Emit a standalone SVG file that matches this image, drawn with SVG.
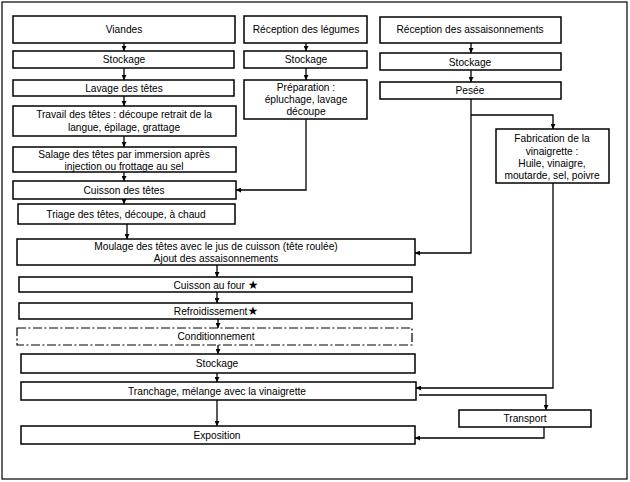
<svg xmlns="http://www.w3.org/2000/svg" width="630" height="482" viewBox="0 0 630 482">
<style>
.b{fill:#fff;stroke:#000;stroke-width:1.5}
.d{fill:#fff;stroke:#000;stroke-width:1.2;stroke-dasharray:9,2.5,2,2.5}
.t{font-family:"Liberation Sans",Arial,sans-serif;font-size:10.2px;fill:#000;text-anchor:middle}
.s{font-family:"DejaVu Sans",sans-serif;font-size:12px;font-weight:bold}
.c{fill:none;stroke:#000;stroke-width:1.3}
</style>
<defs>
<marker id="a" viewBox="0 0 10 10" refX="10" refY="5" markerWidth="5" markerHeight="5" orient="auto" markerUnits="userSpaceOnUse">
<path d="M0,0 L10,5 L0,10 z" fill="#000"/>
</marker>
</defs>
<rect x="2" y="2" width="625" height="477" fill="#fff" stroke="#000" stroke-width="1.2"/>
<g id="connectors">
<path class="c" marker-end="url(#a)" d="M124,43 V51"/>
<path class="c" marker-end="url(#a)" d="M124,68 V80"/>
<path class="c" marker-end="url(#a)" d="M124,96 V106"/>
<path class="c" marker-end="url(#a)" d="M124,136 V147"/>
<path class="c" marker-end="url(#a)" d="M124,172 V181"/>
<path class="c" marker-end="url(#a)" d="M124,199 V204"/>
<path class="c" marker-end="url(#a)" d="M127,224 V239"/>
<path class="c" marker-end="url(#a)" d="M306,43 V51"/>
<path class="c" marker-end="url(#a)" d="M306,68 V80"/>
<path class="c" marker-end="url(#a)" d="M306,119 V190 H236"/>
<path class="c" marker-end="url(#a)" d="M471,43 V53"/>
<path class="c" marker-end="url(#a)" d="M471,70 V82"/>
<path class="c" marker-end="url(#a)" d="M471,99 V253 H415"/>
<path class="c" marker-end="url(#a)" d="M471,115 H553 V129"/>
<path class="c" marker-end="url(#a)" d="M553,183 V388 H416"/>
<path class="c" marker-end="url(#a)" d="M419,395 H546 V410"/>
<path class="c" marker-end="url(#a)" d="M544,427 V438 H415"/>
<path class="c" marker-end="url(#a)" d="M217,265 V277"/>
<path class="c" marker-end="url(#a)" d="M217,292 V303"/>
<path class="c" marker-end="url(#a)" d="M218,319 V328"/>
<path class="c" marker-end="url(#a)" d="M218,345 V354"/>
<path class="c" marker-end="url(#a)" d="M217,373 V382"/>
<path class="c" marker-end="url(#a)" d="M217,400 V426"/>
</g>
<g id="viandes"><rect class="b" x="13" y="16" width="222" height="27"/><text class="t" x="124" y="33">Viandes</text></g>
<g id="stockage1"><rect class="b" x="13" y="51" width="221" height="17"/><text class="t" x="124" y="63">Stockage</text></g>
<g id="lavage"><rect class="b" x="13" y="80" width="221" height="16"/><text class="t" x="124" y="92">Lavage des têtes</text></g>
<g id="travail"><rect class="b" x="13" y="106" width="223" height="30"/><text class="t" x="124" y="118">Travail des têtes : découpe retrait de la</text><text class="t" x="124" y="131">langue, épilage,  grattage</text></g>
<g id="salage"><rect class="b" x="13" y="147" width="223" height="25"/><text class="t" x="124" y="158">Salage des têtes par immersion après</text><text class="t" x="124" y="170">injection ou frottage au sel</text></g>
<g id="cuisson-tetes"><rect class="b" x="13" y="181" width="223" height="18"/><text class="t" x="124" y="194">Cuisson des têtes</text></g>
<g id="triage"><rect class="b" x="18" y="204" width="217" height="20"/><text class="t" x="126" y="218">Triage des têtes, découpe, à chaud</text></g>
<g id="reception-legumes"><rect class="b" x="244" y="16" width="123" height="27"/><text class="t" x="306" y="33">Réception des légumes</text></g>
<g id="stockage-legumes"><rect class="b" x="244" y="51" width="123" height="17"/><text class="t" x="306" y="63">Stockage</text></g>
<g id="preparation"><rect class="b" x="244" y="80" width="123" height="39"/><text class="t" x="306" y="91">Préparation :</text><text class="t" x="306" y="103">épluchage, lavage</text><text class="t" x="306" y="115">découpe</text></g>
<g id="reception-assaisonnements"><rect class="b" x="380" y="17" width="181" height="26"/><text class="t" x="470" y="33">Réception des assaisonnements</text></g>
<g id="stockage-assaisonnements"><rect class="b" x="380" y="53" width="181" height="17"/><text class="t" x="470" y="66">Stockage</text></g>
<g id="pesee"><rect class="b" x="380" y="82" width="181" height="17"/><text class="t" x="470" y="94">Pesée</text></g>
<g id="fabrication"><rect class="b" x="496" y="129" width="113" height="54"/><text class="t" x="552" y="142">Fabrication de la</text><text class="t" x="552" y="155">vinaigrette :</text><text class="t" x="552" y="167">Huile, vinaigre,</text><text class="t" x="552" y="179">moutarde, sel, poivre</text></g>
<g id="moulage"><rect class="b" x="17" y="239" width="398" height="26"/><text class="t" x="216" y="250">Moulage des têtes avec le jus de cuisson (tête roulée)</text><text class="t" x="216" y="262">Ajout des assaisonnements</text></g>
<g id="cuisson-four"><rect class="b" x="19" y="277" width="393" height="15"/><text class="t" x="216" y="289">Cuisson au four <tspan class="s">★</tspan></text></g>
<g id="refroidissement"><rect class="b" x="19" y="303" width="393" height="16"/><text class="t" x="216" y="315">Refroidissement<tspan class="s">★</tspan></text></g>
<g id="conditionnement"><rect class="d" x="17" y="328" width="395" height="17"/><text class="t" x="216" y="340">Conditionnement</text></g>
<g id="stockage2"><rect class="b" x="21" y="354" width="394" height="19"/><text class="t" x="217" y="367">Stockage</text></g>
<g id="tranchage"><rect class="b" x="21" y="382" width="395" height="18"/><text class="t" x="217" y="395">Tranchage, mélange avec la vinaigrette</text></g>
<g id="transport"><rect class="b" x="459" y="410" width="132" height="17"/><text class="t" x="525" y="422">Transport</text></g>
<g id="exposition"><rect class="b" x="21" y="426" width="394" height="18"/><text class="t" x="217" y="439">Exposition</text></g>
</svg>
